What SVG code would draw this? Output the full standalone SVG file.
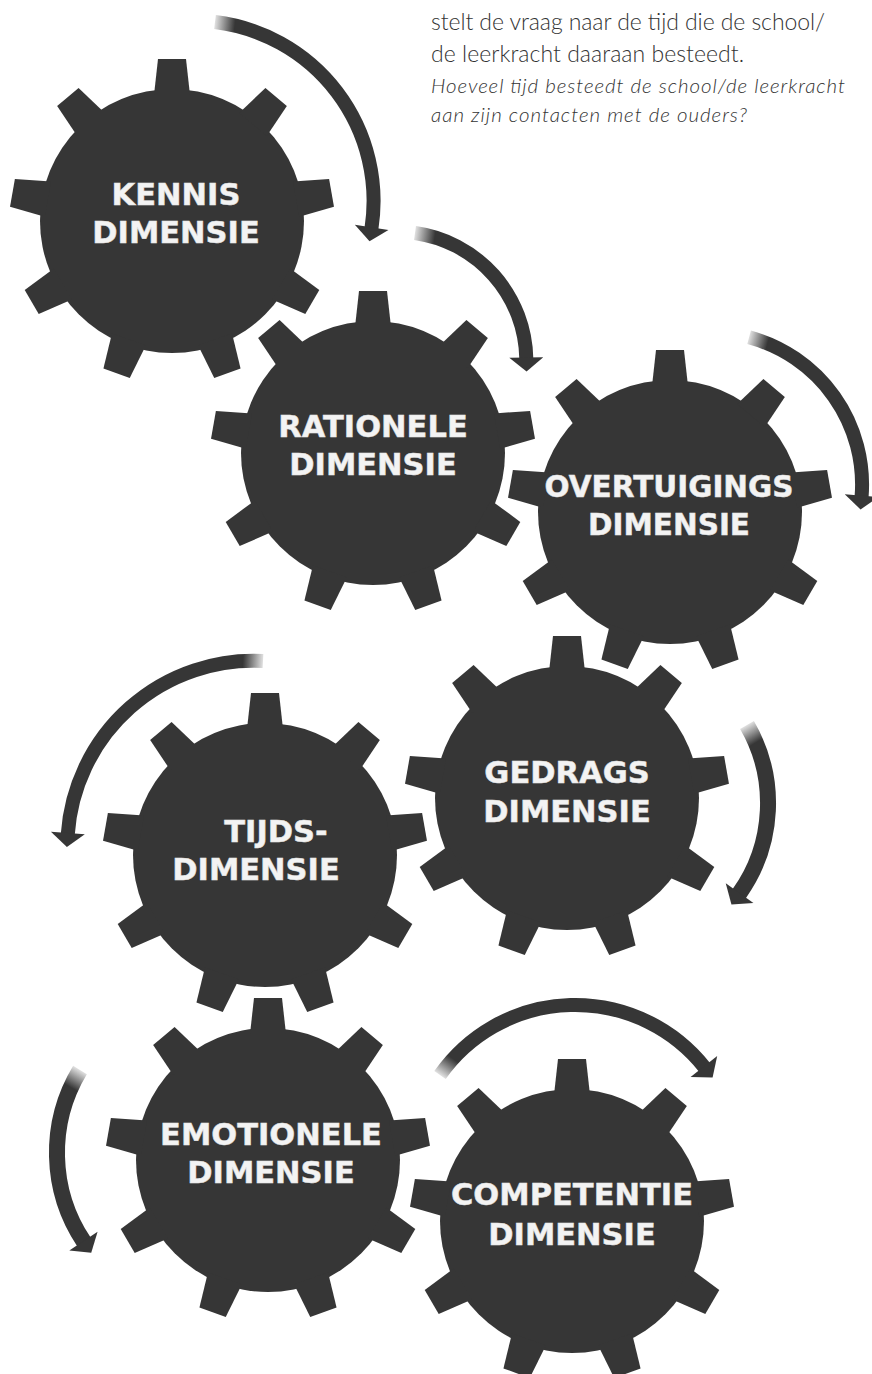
<svg xmlns="http://www.w3.org/2000/svg" xmlns:xlink="http://www.w3.org/1999/xlink" width="872" height="1374" viewBox="0 0 872 1374">
<style>
.gear{fill:#363636}
.lbl{font-family:"DejaVu Sans","Verdana",sans-serif;font-weight:bold;font-size:30.5px;fill:#f3f3f3;stroke:#e6e6e6;stroke-width:0.5;text-anchor:middle}
.body{font-family:"Lato","Open Sans",sans-serif;font-weight:300;font-size:23px;fill:#333333}
.ital{font-family:"Lato","Open Sans",sans-serif;font-weight:300;font-style:italic;font-size:20.5px;fill:#333333}
.arc{fill:none;stroke-linecap:butt;marker-end:url(#head)}
</style>
<defs>
<marker id="head" markerUnits="userSpaceOnUse" markerWidth="16" markerHeight="36" viewBox="0 -18 16 36" refX="1" refY="0" orient="auto" overflow="visible">
<path d="M0,-17 L14,0 L0,17 Z" fill="#363636"/>
</marker>
<path id="tooth" d="M-14,-162 L14,-162 L18,-126 L-18,-126 Z"/>
<g id="gear">
<circle r="132"/>
<use href="#tooth"/>
<use href="#tooth" transform="rotate(40)"/>
<use href="#tooth" transform="rotate(80)"/>
<use href="#tooth" transform="rotate(120)"/>
<use href="#tooth" transform="rotate(160)"/>
<use href="#tooth" transform="rotate(200)"/>
<use href="#tooth" transform="rotate(240)"/>
<use href="#tooth" transform="rotate(280)"/>
<use href="#tooth" transform="rotate(320)"/>
</g>
<linearGradient id="f1" gradientUnits="userSpaceOnUse" x1="215" y1="22" x2="235" y2="24"><stop offset="0" stop-color="#363636" stop-opacity="0.15"/><stop offset="1" stop-color="#363636"/></linearGradient>
<linearGradient id="f2" gradientUnits="userSpaceOnUse" x1="415" y1="233" x2="435" y2="236"><stop offset="0" stop-color="#363636" stop-opacity="0.15"/><stop offset="1" stop-color="#363636"/></linearGradient>
<linearGradient id="f3" gradientUnits="userSpaceOnUse" x1="749" y1="337" x2="768" y2="342"><stop offset="0" stop-color="#363636" stop-opacity="0.15"/><stop offset="1" stop-color="#363636"/></linearGradient>
<linearGradient id="f4" gradientUnits="userSpaceOnUse" x1="263" y1="661" x2="243" y2="660"><stop offset="0" stop-color="#363636" stop-opacity="0.15"/><stop offset="1" stop-color="#363636"/></linearGradient>
<linearGradient id="f5" gradientUnits="userSpaceOnUse" x1="747" y1="725" x2="757" y2="742"><stop offset="0" stop-color="#363636" stop-opacity="0.15"/><stop offset="1" stop-color="#363636"/></linearGradient>
<linearGradient id="f6" gradientUnits="userSpaceOnUse" x1="80" y1="1070" x2="70" y2="1087"><stop offset="0" stop-color="#363636" stop-opacity="0.15"/><stop offset="1" stop-color="#363636"/></linearGradient>
<linearGradient id="f7" gradientUnits="userSpaceOnUse" x1="440" y1="1075" x2="452" y2="1058"><stop offset="0" stop-color="#363636" stop-opacity="0.15"/><stop offset="1" stop-color="#363636"/></linearGradient>
</defs>
<rect width="872" height="1374" fill="#ffffff"/>

<g id="intro">
<text x="431" y="30" class="body" textLength="394">stelt de vraag naar de tijd die de school/</text>
<text x="431" y="62" class="body" textLength="313">de leerkracht daaraan besteedt.</text>
<text x="431" y="93" class="ital" textLength="414">Hoeveel tijd besteedt de school/de leerkracht</text>
<text x="431" y="122" class="ital" textLength="316">aan zijn contacten met de ouders?</text>
</g>

<g id="kennis">
<use href="#gear" class="gear" x="172" y="221"/>
<text class="lbl" x="176" y="205">KENNIS</text>
<text class="lbl" x="176" y="243">DIMENSIE</text>
</g>
<g id="rationele">
<use href="#gear" class="gear" x="373" y="453"/>
<text class="lbl" x="373" y="437">RATIONELE</text>
<text class="lbl" x="373" y="475">DIMENSIE</text>
</g>
<g id="overtuigings">
<use href="#gear" class="gear" x="670" y="512"/>
<text class="lbl" x="669" y="497" style="font-size:29.5px">OVERTUIGINGS</text>
<text class="lbl" x="669" y="535" style="font-size:29.5px">DIMENSIE</text>
</g>
<g id="tijds">
<use href="#gear" class="gear" x="265" y="855"/>
<text class="lbl" x="276" y="842">TIJDS-</text>
<text class="lbl" x="256" y="880">DIMENSIE</text>
</g>
<g id="gedrags">
<use href="#gear" class="gear" x="567" y="798"/>
<text class="lbl" x="567" y="783">GEDRAGS</text>
<text class="lbl" x="567" y="822">DIMENSIE</text>
</g>
<g id="emotionele">
<use href="#gear" class="gear" x="268" y="1160"/>
<text class="lbl" x="271" y="1145">EMOTIONELE</text>
<text class="lbl" x="271" y="1183">DIMENSIE</text>
</g>
<g id="competentie">
<use href="#gear" class="gear" x="572" y="1221"/>
<text class="lbl" x="572" y="1205">COMPETENTIE</text>
<text class="lbl" x="572" y="1245">DIMENSIE</text>
</g>

<g id="connectors">
<path class="arc" stroke="url(#f1)" stroke-width="14" d="M215,22 A180.3,180.3 0 0 1 371.5,228.3"/>
<path class="arc" stroke="url(#f2)" stroke-width="14" d="M415,233 A129.3,129.3 0 0 1 526.3,358.5"/>
<path class="arc" stroke="url(#f3)" stroke-width="14" d="M749.1,337.3 A152.5,152.5 0 0 1 861.6,496.6"/>
<path class="arc" stroke="url(#f4)" stroke-width="14" d="M263,661 A186.2,186.2 0 0 0 67.8,834"/>
<path class="arc" stroke="url(#f5)" stroke-width="16" d="M747,725 A156.2,156.2 0 0 1 739,894"/>
<path class="arc" stroke="url(#f6)" stroke-width="16" d="M80,1070 A160.5,160.5 0 0 0 84,1242"/>
<path class="arc" stroke="url(#f7)" stroke-width="14" d="M440,1075 A165.3,165.3 0 0 1 704.5,1067.3"/>
</g>
</svg>
